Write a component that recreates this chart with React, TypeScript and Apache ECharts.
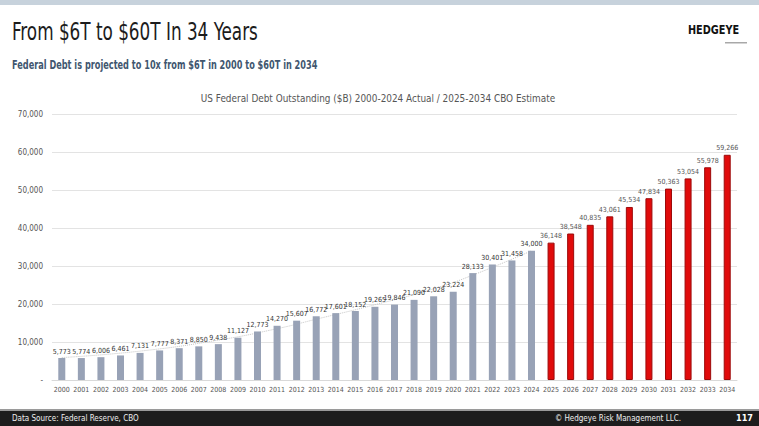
import React, { useEffect, useRef } from "react";
import * as echarts from "echarts";

const years = [
  "2000", "2001", "2002", "2003", "2004", "2005", "2006", "2007", "2008", "2009",
  "2010", "2011", "2012", "2013", "2014", "2015", "2016", "2017", "2018", "2019",
  "2020", "2021", "2022", "2023", "2024", "2025", "2026", "2027", "2028", "2029",
  "2030", "2031", "2032", "2033", "2034",
];

const actualDebt = [
  5773, 5774, 6006, 6461, 7131, 7777, 8371, 8850, 9438, 11127,
  12773, 14270, 15607, 16772, 17601, 18152, 19265, 19846, 21090, 22028,
  23224, 28133, 30401, 31458, 34000,
];

const cboEstimate = [
  36148, 38548, 40835, 43061, 45534, 47834, 50363, 53054, 55978, 59266,
];

// dotted trendline (null = no reading)
const trendPoints: (number | null)[] = [
  5900, null, null, null, 7600, null, null, null, 10500, null,
  null, 13500, null, 16000, null, null, 19800, null, null, 24000,
  null, 27600, null, null, 34000,
];

const yTicks = [0, 10000, 20000, 30000, 40000, 50000, 60000, 70000];

const GRAY = "#98a2b6";
const RED = "#e00b0b";
const RED_EDGE = "#9c0a0a";

export default function App() {
  const ref = useRef<HTMLDivElement>(null);
  useEffect(() => {
    if (!ref.current) return;
    const chart = echarts.init(ref.current, undefined, { renderer: "svg" });
    const barData = [
      ...actualDebt.map((v) => ({ value: v, itemStyle: { color: GRAY } })),
      ...cboEstimate.map((v) => ({
        value: v,
        itemStyle: { color: RED, borderColor: RED_EDGE, borderWidth: 1 },
        label: { color: "#555" },
      })),
    ];
    const narrow = "'DejaVu Sans Condensed', 'Liberation Sans Narrow', Arial, sans-serif";
    chart.setOption({
      animation: false,
      backgroundColor: "#ffffff",
      grid: { left: 52, right: 22, top: 114, bottom: 46, containLabel: false },
      xAxis: {
        type: "category",
        data: years,
        axisLine: { show: true, lineStyle: { color: "#d9d9d9" } },
        axisTick: { show: false },
        axisLabel: { fontSize: 7, color: "#555", margin: 6, interval: 0, fontFamily: narrow },
      },
      yAxis: {
        type: "value",
        min: yTicks[0],
        max: yTicks[yTicks.length - 1],
        interval: 10000,
        axisLine: { show: false },
        axisTick: { show: false },
        splitLine: { lineStyle: { color: "#e3e3e3", width: 1 } },
        axisLabel: {
          fontSize: 8,
          color: "#555",
          margin: 9,
          fontFamily: narrow,
          formatter: (v: number) => (v === 0 ? "-" : v.toLocaleString("en-US")),
        },
      },
      series: [
        {
          type: "bar",
          data: barData,
          barWidth: 7,
          label: {
            show: true,
            position: "top",
            distance: 3,
            fontSize: 7,
            color: "#333",
            fontFamily: narrow,
            formatter: (p: any) => Number(p.value).toLocaleString("en-US"),
          },
        },
        {
          type: "line",
          data: trendPoints,
          connectNulls: true,
          smooth: true,
          symbol: "none",
          silent: true,
          z: 1,
          lineStyle: { color: "#c4c4c4", width: 1, type: "dotted" },
        },
      ],
      graphic: [
        { type: "rect", shape: { x: 0, y: 0, width: 759, height: 5 }, style: { fill: "#c7d2dc" } },
        {
          type: "text",
          x: 12,
          y: 20,
          scaleX: 0.78,
          style: {
            text: "From $6T to $60T In 34 Years",
            fontSize: 24,
            fontFamily: narrow,
            fill: "#1c1c1c",
          },
        },
        {
          type: "text",
          x: 688,
          y: 24,
          scaleX: 0.9,
          style: {
            text: "HEDGEYE",
            fontSize: 12,
            fontWeight: "bold",
            fontFamily: narrow,
            fill: "#111",
          },
        },
        { type: "rect", shape: { x: 725, y: 42, width: 22, height: 1.5 }, style: { fill: "#a8a8a8" } },
        {
          type: "text",
          x: 12,
          y: 58,
          scaleX: 0.7,
          style: {
            text: "Federal Debt is projected to 10x from $6T in 2000 to $60T in 2034",
            fontSize: 13,
            fontWeight: "bold",
            fontFamily: narrow,
            fill: "#41566f",
          },
        },
        {
          type: "text",
          x: 378,
          y: 92,
          scaleX: 0.9,
          style: {
            text: "US Federal Debt Outstanding ($B) 2000-2024 Actual / 2025-2034 CBO Estimate",
            fontSize: 11,
            fontFamily: narrow,
            fill: "#555",
            align: "center",
          },
        },
        { type: "rect", shape: { x: 0, y: 409, width: 759, height: 2 }, style: { fill: "#9a9a9a" } },
        { type: "rect", shape: { x: 0, y: 411, width: 759, height: 15 }, style: { fill: "#1d1d1d" } },
        {
          type: "text",
          x: 12,
          y: 414,
          style: { text: "Data Source: Federal Reserve, CBO", fontSize: 8, fontFamily: narrow, fill: "#eee" },
        },
        {
          type: "text",
          x: 681,
          y: 414,
          style: {
            text: "© Hedgeye Risk Management LLC.",
            fontSize: 8,
            fontFamily: narrow,
            fill: "#eee",
            align: "right",
          },
        },
        {
          type: "text",
          x: 736,
          y: 413,
          style: { text: "117", fontSize: 9, fontWeight: "bold", fontFamily: narrow, fill: "#fff" },
        },
      ],
    });
    return () => chart.dispose();
  }, []);
  return (
    <div
      ref={ref}
      style={{ position: "absolute", left: 0, top: 0, width: 759, height: 426 }}
    />
  );
}
